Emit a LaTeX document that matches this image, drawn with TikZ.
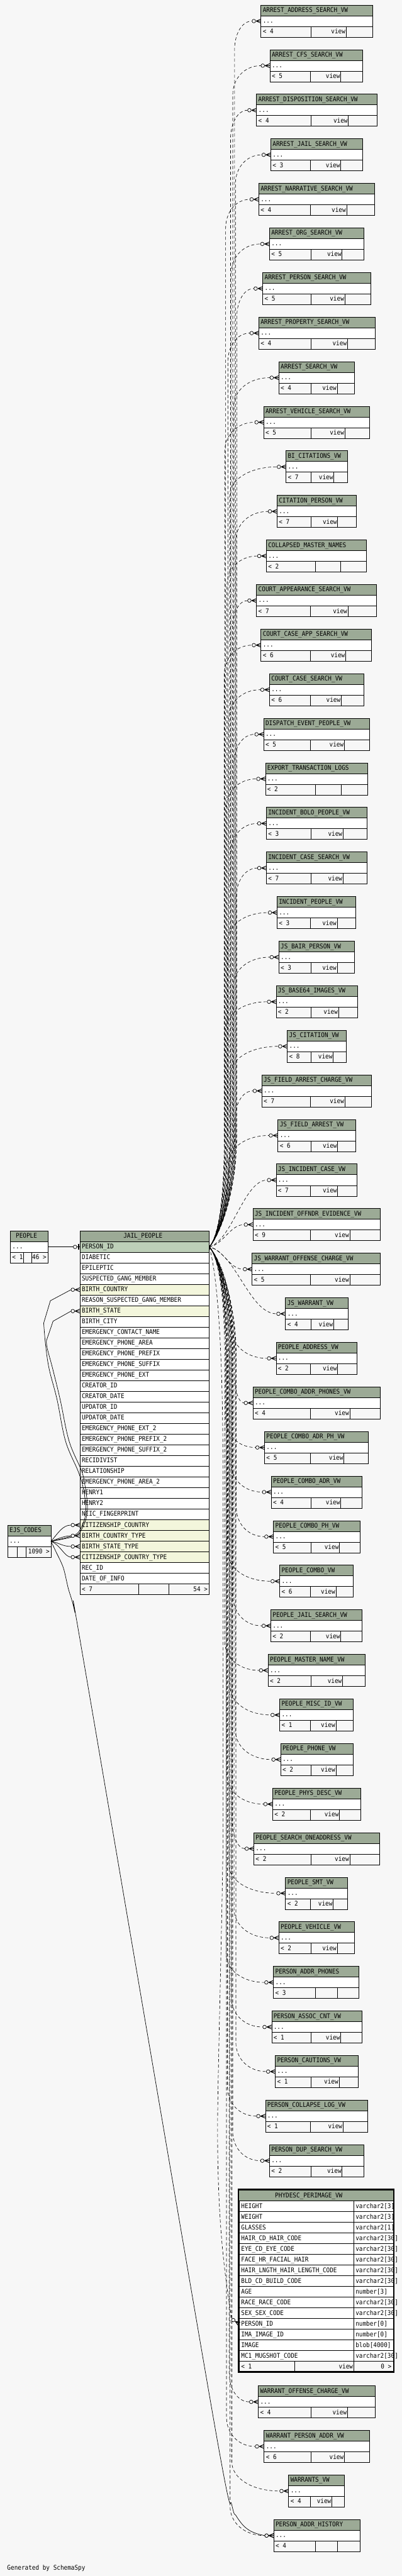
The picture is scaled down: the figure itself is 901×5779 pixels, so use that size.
\documentclass[tikz,border=0pt]{standalone}
\usepackage{fontspec}
\newfontfamily\dfont{DejaVu Sans Mono}[FakeStretch=0.905]
\definecolor{bgc}{HTML}{F7F7F7}
\definecolor{hdrc}{HTML}{9CAA96}
\definecolor{pkc}{HTML}{BDCFB8}
\definecolor{fkc}{HTML}{F3F6DC}
\tikzset{
 tbl/.style={draw=black, line width=1pt},
 lbl/.style={anchor=west, inner sep=0pt, font=\dfont\fontsize{14.6}{16}\selectfont, text height=10.6pt, text depth=0pt},
 rel/.style={line width=0.9pt, dash pattern=on 7pt off 5pt},
 fkrel/.style={line width=1pt},
 crow/.pic={
   \draw[line width=1.3pt, solid] (-11,0) -- (0,-4.5) (-11,0) -- (0,0) (-11,0) -- (0,4.5);
   \draw[line width=1pt, solid, fill=bgc] (-16,0) circle[radius=4pt];
 },
 zone/.pic={
   \draw[line width=1pt] (-7,0) -- (0,0);
   \draw[line width=2.5pt] (-3,-6.5) -- (-3,6.5);
   \draw[line width=1pt, fill=bgc] (-11,0) circle[radius=4pt];
 }
}
% #1 id, #2 title, #3 top, #4 left, #5 right, #6 div1, #7 div2, #8 count, #9 view text
\newcommand\vtab[9]{%
 \fill[hdrc] (#4,#3) rectangle (#5,#3+24);
 \fill[white] (#4,#3+24) rectangle (#5,#3+48);
 \draw[tbl] (#4,#3) rectangle (#5,#3+72);
 \draw[tbl] (#4,#3+24) -- (#5,#3+24) (#4,#3+48) -- (#5,#3+48) (#6,#3+48) -- (#6,#3+72) (#7,#3+48) -- (#7,#3+72);
 \node[lbl] (#1h) at (#4+4,#3+11) {#2};
 \node[lbl] (#1r) at (#4+4,#3+35) {...};
 \node[lbl] (#1f) at (#4+4,#3+59) {< #8};
 \node[lbl, anchor=east] (#1v) at (#7-1.5,#3+59) {#9};
 \coordinate (#1) at (#4,#3+36);
}
% #1 id, #2 top, #3 left, #4 trunk x
\newcommand\jedge[4]{%
 \pgfmathsetmacro\jTy{#2+36}%
 \pgfmathsetmacro\jDy{\jTy-2797.3}%
 \pgfmathsetmacro\jAdy{abs(\jDy)}%
 \pgfmathsetmacro\jDir{(\jDy<0) ? -1 : 1}%
 \pgfmathsetmacro\jCx{#3-20}%
 \pgfmathsetmacro\jPh{mod(#2*1.7,12)}%
 \ifdim\jAdy pt<170pt
   \pgfmathsetmacro\jCa{469.3+0.4*(\jCx-469.3)}%
   \pgfmathsetmacro\jCb{469.3+0.6*(\jCx-469.3)}%
   \pgfmathsetmacro\jYa{2797.3+0.1*(\jDy)}%
   \draw[rel, dash phase=\jPh pt] (jpr) .. controls (\jCa,\jYa) and (\jCb,\jTy) .. ([xshift=-20pt]#1);
 \else
   \pgfmathsetmacro\jYbr{\jTy-(\jDir)*65}%
   \pgfmathsetmacro\jDd{abs(\jYbr-2797.3)}%
   \pgfmathsetmacro\jYm{2797.3+(\jDir)*min(250,\jDd)}%
   \pgfmathsetmacro\jYc{2797.3+(\jDir)*min(120,0.5*\jDd)}%
   \pgfmathsetmacro\jYs{2797.3+(\jDir)*25}%
   \pgfmathsetmacro\jYt{\jTy-(\jDir)*30}%
   \pgfmathsetmacro\jCc{#4+0.4*(\jCx-#4)}%
   \draw[rel, dash phase=\jPh pt] (jpr) .. controls (492,\jYs) and (#4,\jYc) .. (#4,\jYm) -- (#4,\jYbr) .. controls (#4,\jYt) and (\jCc,\jTy) .. ([xshift=-20pt]#1);
 \fi
 \pic at (#1) {crow};
}
\begin{document}
\begin{tikzpicture}[x=1pt,y=-1pt]
\fill[bgc] (0,0) rectangle (901,5779);
\useasboundingbox (0,0) rectangle (901,5779);

% ---------- right column views ----------
\vtab{t1}{ARREST\_ADDRESS\_SEARCH\_VW}{11.3}{585.3}{835.7}{697.3}{776.3}{4}{view}
\vtab{t2}{ARREST\_CFS\_SEARCH\_VW}{111.3}{605.3}{813.3}{696.3}{764.3}{5}{view}
\vtab{t3}{ARREST\_DISPOSITION\_SEARCH\_VW}{211.3}{575.3}{845.7}{697.3}{781.3}{4}{view}
\vtab{t4}{ARREST\_JAIL\_SEARCH\_VW}{311.3}{607.3}{812.7}{696.3}{764.3}{3}{view}
\vtab{t5}{ARREST\_NARRATIVE\_SEARCH\_VW}{411.3}{580.3}{839.7}{696.3}{777.3}{4}{view}
\vtab{t6}{ARREST\_ORG\_SEARCH\_VW}{511.3}{604.3}{816.3}{697.3}{767.3}{5}{view}
\vtab{t7}{ARREST\_PERSON\_SEARCH\_VW}{611.3}{589.3}{831.3}{697.3}{773.3}{5}{view}
\vtab{t8}{ARREST\_PROPERTY\_SEARCH\_VW}{711.3}{580.3}{840.7}{697.3}{779.3}{4}{view}
\vtab{t9}{ARREST\_SEARCH\_VW}{811.3}{625.3}{795.3}{697.3}{756.3}{4}{view}
\vtab{t10}{ARREST\_VEHICLE\_SEARCH\_VW}{911.3}{591.3}{829.3}{697.3}{773.3}{5}{view}
\vtab{t11}{BI\_CITATIONS\_VW}{1011.3}{641.3}{779.3}{697.3}{748.7}{7}{view}
\vtab{t12}{CITATION\_PERSON\_VW}{1111.3}{621.3}{799.3}{697.3}{757.3}{7}{view}
\vtab{t13}{COLLAPSED\_MASTER\_NAMES}{1211.3}{597.3}{821.3}{707.3}{764.3}{2}{}
\vtab{t14}{COURT\_APPEARANCE\_SEARCH\_VW}{1311.3}{575.3}{844.3}{696.3}{780.3}{7}{view}
\vtab{t15}{COURT\_CASE\_APP\_SEARCH\_VW}{1411.3}{585.3}{833.3}{696.3}{775.3}{6}{view}
\vtab{t16}{COURT\_CASE\_SEARCH\_VW}{1511.3}{604.3}{815.3}{696.3}{765.3}{6}{view}
\vtab{t17}{DISPATCH\_EVENT\_PEOPLE\_VW}{1611.3}{591.3}{828.3}{696.3}{772.3}{5}{view}
\vtab{t18}{EXPORT\_TRANSACTION\_LOGS}{1711.3}{595.3}{824.3}{707.3}{765.3}{2}{}
\vtab{t19}{INCIDENT\_BOLO\_PEOPLE\_VW}{1811.3}{597.3}{823.3}{697.3}{769.3}{3}{view}
\vtab{t20}{INCIDENT\_CASE\_SEARCH\_VW}{1911.3}{597.3}{823.3}{697.3}{769.3}{7}{view}
\vtab{t21}{INCIDENT\_PEOPLE\_VW}{2011.3}{621.3}{797.3}{696.3}{756.3}{3}{view}
\vtab{t22}{JS\_BAIR\_PERSON\_VW}{2111.3}{625.3}{795.3}{697.3}{756.3}{3}{view}
\vtab{t23}{JS\_BASE64\_IMAGES\_VW}{2211.3}{619.3}{801.3}{697.3}{759.3}{2}{view}
\vtab{t24}{JS\_CITATION\_VW}{2311.3}{644.3}{776.3}{697.3}{747.3}{8}{view}
\vtab{t25}{JS\_FIELD\_ARREST\_CHARGE\_VW}{2411.3}{587.3}{832.3}{696.3}{773.3}{7}{view}
\vtab{t26}{JS\_FIELD\_ARREST\_VW}{2511.3}{623.3}{797.3}{697.3}{757.3}{6}{view}
\vtab{t27}{JS\_INCIDENT\_CASE\_VW}{2611.3}{619.3}{800.3}{696.3}{757.3}{7}{view}
\vtab{t28}{JS\_INCIDENT\_OFFNDR\_EVIDENCE\_VW}{2711.3}{567.3}{852.3}{696.3}{784.3}{9}{view}
\vtab{t29}{JS\_WARRANT\_OFFENSE\_CHARGE\_VW}{2811.3}{565.3}{853.3}{696.3}{784.3}{5}{view}
\vtab{t30}{JS\_WARRANT\_VW}{2911.3}{640.3}{780.3}{697.3}{748.3}{4}{view}
\vtab{t31}{PEOPLE\_ADDRESS\_VW}{3011.3}{619.3}{800.3}{696.3}{757.3}{2}{view}
\vtab{t32}{PEOPLE\_COMBO\_ADDR\_PHONES\_VW}{3111.3}{567.3}{852.3}{696.3}{784.3}{4}{view}
\vtab{t33}{PEOPLE\_COMBO\_ADR\_PH\_VW}{3211.3}{593.3}{825.3}{696.3}{771.3}{5}{view}
\vtab{t34}{PEOPLE\_COMBO\_ADR\_VW}{3311.3}{608.3}{812.3}{697.3}{764.3}{4}{view}
\vtab{t35}{PEOPLE\_COMBO\_PH\_VW}{3411.3}{613.3}{807.3}{697.3}{761.3}{5}{view}
\vtab{t36}{PEOPLE\_COMBO\_VW}{3511.3}{627.3}{792.3}{696.3}{753.3}{6}{view}
\vtab{t37}{PEOPLE\_JAIL\_SEARCH\_VW}{3611.3}{607.3}{812.3}{696.3}{764.3}{2}{view}
\vtab{t38}{PEOPLE\_MASTER\_NAME\_VW}{3711.3}{601.3}{819.3}{697.3}{768.3}{2}{view}
\vtab{t39}{PEOPLE\_MISC\_ID\_VW}{3811.3}{627.3}{792.3}{696.3}{753.3}{1}{view}
\vtab{t40}{PEOPLE\_PHONE\_VW}{3911.3}{629.3}{791.3}{697.3}{753.3}{2}{view}
\vtab{t41}{PEOPLE\_PHYS\_DESC\_VW}{4011.3}{611.3}{808.3}{696.3}{761.3}{2}{view}
\vtab{t42}{PEOPLE\_SEARCH\_ONEADDRESS\_VW}{4111.3}{569.3}{851.3}{697.3}{784.3}{2}{view}
\vtab{t43}{PEOPLE\_SMT\_VW}{4211.3}{640.3}{779.3}{696.3}{747.3}{2}{view}
\vtab{t44}{PEOPLE\_VEHICLE\_VW}{4311.3}{625.3}{795.3}{697.3}{756.3}{2}{view}
\vtab{t45}{PERSON\_ADDR\_PHONES}{4411.3}{613.3}{805.3}{707.3}{756.3}{3}{}
\vtab{t46}{PERSON\_ASSOC\_CNT\_VW}{4511.3}{609.3}{811.3}{697.3}{764.3}{1}{view}
\vtab{t47}{PERSON\_CAUTIONS\_VW}{4611.3}{617.3}{803.3}{697.3}{760.3}{1}{view}
\vtab{t48}{PERSON\_COLLAPSE\_LOG\_VW}{4711.3}{595.3}{824.3}{696.3}{769.3}{1}{view}
\vtab{t49}{PERSON\_DUP\_SEARCH\_VW}{4811.3}{604.3}{816.3}{697.3}{767.3}{2}{view}
\vtab{t50}{WARRANT\_OFFENSE\_CHARGE\_VW}{5352.3}{579.3}{841.3}{697.3}{779.3}{4}{view}
\vtab{t51}{WARRANT\_PERSON\_ADDR\_VW}{5452.3}{592.3}{828.3}{697.3}{772.3}{6}{view}
\vtab{t52}{WARRANTS\_VW}{5552.3}{647.3}{772.3}{696.3}{744.3}{4}{view}
\vtab{t53}{PERSON\_ADDR\_HISTORY}{5652.3}{613.8}{807.5}{707.5}{757}{4}{}

% ---------- PHYDESC_PERIMAGE_VW ----------
\fill[hdrc] (536.7,4913.3) rectangle (881.7,4937.3);
\node[lbl] (pdh) at (616.7,4924.3) {PHYDESC\_PERIMAGE\_VW};
\foreach \nm/\tp [count=\i from 0] in {HEIGHT/varchar2[3], WEIGHT/varchar2[3], GLASSES/varchar2[1], HAIR\_CD\_HAIR\_CODE/varchar2[30], EYE\_CD\_EYE\_CODE/varchar2[30], FACE\_HR\_FACIAL\_HAIR/varchar2[30], HAIR\_LNGTH\_HAIR\_LENGTH\_CODE/varchar2[30], BLD\_CD\_BUILD\_CODE/varchar2[30], AGE/number[3], RACE\_RACE\_CODE/varchar2[30], SEX\_SEX\_CODE/varchar2[30], PERSON\_ID/number[0], IMA\_IMAGE\_ID/number[0], IMAGE/blob[4000], MC1\_MUGSHOT\_CODE/varchar2[30]}{
  \filldraw[tbl, fill=white] (536.7,4937.3+24*\i) rectangle (793.3,4961.3+24*\i);
  \filldraw[tbl, fill=white] (793.3,4937.3+24*\i) rectangle (881.7,4961.3+24*\i);
  \node[lbl] at (540.7,4948.3+24*\i) {\nm};
  \node[lbl] at (797.3,4948.3+24*\i) {\tp};
}
\draw[tbl] (536.7,5297.3) rectangle (881.7,5321.3) (660.3,5297.3) -- (660.3,5321.3) (793.3,5297.3) -- (793.3,5321.3);
\node[lbl] at (540.7,5308.3) {< 1};
\node[lbl, anchor=east] at (791.8,5308.3) {view};
\node[lbl, anchor=east] at (878,5308.3) {0 >};
\draw[line width=3.4pt] (535,4911.7) rectangle (883,5321);
\coordinate (pdid) at (536.7,5213.3);

% ---------- JAIL_PEOPLE ----------
\fill[hdrc] (179.3,2761.3) rectangle (469.3,2785.3);
\draw[tbl] (179.3,2761.3) rectangle (469.3,2785.3);
\node[lbl] (jph) at (276.7,2772.3) {JAIL\_PEOPLE};
\foreach \nm/\cl [count=\i from 0] in {PERSON\_ID/pkc, DIABETIC/white, EPILEPTIC/white, SUSPECTED\_GANG\_MEMBER/white, BIRTH\_COUNTRY/fkc, REASON\_SUSPECTED\_GANG\_MEMBER/white, BIRTH\_STATE/fkc, BIRTH\_CITY/white, EMERGENCY\_CONTACT\_NAME/white, EMERGENCY\_PHONE\_AREA/white, EMERGENCY\_PHONE\_PREFIX/white, EMERGENCY\_PHONE\_SUFFIX/white, EMERGENCY\_PHONE\_EXT/white, CREATOR\_ID/white, CREATOR\_DATE/white, UPDATOR\_ID/white, UPDATOR\_DATE/white, EMERGENCY\_PHONE\_EXT\_2/white, EMERGENCY\_PHONE\_PREFIX\_2/white, EMERGENCY\_PHONE\_SUFFIX\_2/white, RECIDIVIST/white, RELATIONSHIP/white, EMERGENCY\_PHONE\_AREA\_2/white, HENRY1/white, HENRY2/white, NCIC\_FINGERPRINT/white, CITIZENSHIP\_COUNTRY/fkc, BIRTH\_COUNTRY\_TYPE/fkc, BIRTH\_STATE\_TYPE/fkc, CITIZENSHIP\_COUNTRY\_TYPE/fkc, REC\_ID/white, DATE\_OF\_INFO/white}{
  \filldraw[tbl, fill=\cl] (179.3,2785.3+24*\i) rectangle (469.3,2809.3+24*\i);
  \node[lbl] at (183.3,2796.3+24*\i) {\nm};
}
\draw[tbl] (179.3,3553.3) rectangle (469.3,3577.3) (311.3,3553.3) -- (311.3,3577.3) (379.3,3553.3) -- (379.3,3577.3);
\node[lbl] at (183.3,3564.3) {< 7};
\node[lbl, anchor=east] at (465.7,3564.3) {54 >};
\coordinate (jpr) at (469.3,2797.3);
\coordinate (jpl) at (179.3,2797.3);
\coordinate (jbc) at (179.3,2893.3);
\coordinate (jbs) at (179.3,2941.3);
\coordinate (jcc) at (179.3,3421.3);
\coordinate (jbct) at (179.3,3445.3);
\coordinate (jbst) at (179.3,3469.3);
\coordinate (jcct) at (179.3,3493.3);

% ---------- PEOPLE ----------
\fill[hdrc] (23.3,2761.3) rectangle (107.3,2785.3);
\fill[white] (23.3,2785.3) rectangle (107.3,2809.3);
\draw[tbl] (23.3,2761.3) rectangle (107.3,2833.3) (23.3,2785.3) -- (107.3,2785.3) (23.3,2809.3) -- (107.3,2809.3) (53.3,2809.3) -- (53.3,2833.3) (70.7,2809.3) -- (70.7,2833.3);
\node[lbl] (ph) at (35.3,2772.3) {PEOPLE};
\node[lbl] at (27.3,2796.3) {...};
\node[lbl] at (27.3,2820.3) {< 1};
\node[lbl, anchor=east] at (104.3,2820.3) {46 >};
\coordinate (pr) at (107.3,2797.3);

% ---------- EJS_CODES ----------
\fill[hdrc] (17.3,3421.7) rectangle (114.3,3445.7);
\fill[white] (17.3,3445.7) rectangle (114.3,3469.7);
\draw[tbl] (17.3,3421.7) rectangle (114.3,3493.7) (17.3,3445.7) -- (114.3,3445.7) (17.3,3469.7) -- (114.3,3469.7) (38.3,3469.7) -- (38.3,3493.7) (58.3,3469.7) -- (58.3,3493.7);
\node[lbl] (eh) at (21.3,3432.7) {EJS\_CODES};
\node[lbl] at (21.3,3456.7) {...};
\node[lbl, anchor=east] at (111.3,3480.7) {1090 >};
\coordinate (er) at (114.3,3457.7);

% ---------- edges JAIL_PEOPLE -> views ----------
\jedge{t1}{11.3}{585.3}{526}
\jedge{t2}{111.3}{605.3}{522}
\jedge{t3}{211.3}{575.3}{517}
\jedge{t4}{311.3}{607.3}{528}
\jedge{t5}{411.3}{580.3}{506}
\jedge{t6}{511.3}{604.3}{519}
\jedge{t7}{611.3}{589.3}{531}
\jedge{t8}{711.3}{580.3}{511}
\jedge{t9}{811.3}{625.3}{524}
\jedge{t10}{911.3}{591.3}{504}
\jedge{t11}{1011.3}{641.3}{515}
\jedge{t12}{1111.3}{621.3}{529}
\jedge{t13}{1211.3}{597.3}{509}
\jedge{t14}{1311.3}{575.3}{521}
\jedge{t15}{1411.3}{585.3}{503}
\jedge{t16}{1511.3}{604.3}{513}
\jedge{t17}{1611.3}{591.3}{525}
\jedge{t18}{1711.3}{595.3}{507}
\jedge{t19}{1811.3}{597.3}{518}
\jedge{t20}{1911.3}{597.3}{530}
\jedge{t21}{2011.3}{621.3}{510}
\jedge{t22}{2111.3}{625.3}{523}
\jedge{t23}{2211.3}{619.3}{505}
\jedge{t24}{2311.3}{644.3}{516}
\jedge{t25}{2411.3}{587.3}{527}
\jedge{t26}{2511.3}{623.3}{512}
\jedge{t27}{2611.3}{619.3}{512}
\jedge{t28}{2711.3}{567.3}{512}
\jedge{t29}{2811.3}{565.3}{512}
\jedge{t30}{2911.3}{640.3}{512}
\jedge{t31}{3011.3}{619.3}{520}
\jedge{t32}{3111.3}{567.3}{526}
\jedge{t33}{3211.3}{593.3}{506}
\jedge{t34}{3311.3}{608.3}{518}
\jedge{t35}{3411.3}{613.3}{530}
\jedge{t36}{3511.3}{627.3}{511}
\jedge{t37}{3611.3}{607.3}{523}
\jedge{t38}{3711.3}{601.3}{504}
\jedge{t39}{3811.3}{627.3}{516}
\jedge{t40}{3911.3}{629.3}{528}
\jedge{t41}{4011.3}{611.3}{509}
\jedge{t42}{4111.3}{569.3}{521}
\jedge{t43}{4211.3}{640.3}{513}
\jedge{t44}{4311.3}{625.3}{525}
\jedge{t45}{4411.3}{613.3}{507}
\jedge{t46}{4511.3}{609.3}{519}
\jedge{t47}{4611.3}{617.3}{529}
\jedge{t48}{4711.3}{595.3}{510}
\jedge{t49}{4811.3}{604.3}{522}
\jedge{t50}{5352.3}{579.3}{514}
\jedge{t51}{5452.3}{592.3}{508}
\jedge{t52}{5552.3}{647.3}{520}
\jedge{t53}{5652.3}{613.8}{516}

% JAIL_PEOPLE -> PHYDESC_PERIMAGE_VW
\draw[rel] (jpr) .. controls (485,2850) and (500,3000) .. (500,3300) -- (500,4150) .. controls (495,4450) and (487,4700) .. (488,4800) .. controls (489,5000) and (505,5110) .. ([shift={(-17,-10.6)}]pdid);
\pic[rotate=-32] at (pdid) {crow};

% ---------- PEOPLE -> JAIL_PEOPLE ----------
\draw[fkrel] (pr) -- ([xshift=-15pt]jpl);
\pic at (jpl) {zone};

% ---------- EJS_CODES -> JAIL_PEOPLE / PERSON_ADDR_HISTORY ----------
\draw[fkrel] (er) .. controls (130,3440) and (140,3421.3) .. ([xshift=-20pt]jcc);
\draw[fkrel] (er) .. controls (130,3452) and (145,3445.3) .. ([xshift=-20pt]jbct);
\draw[fkrel] (er) .. controls (130,3460) and (140,3469.3) .. ([xshift=-20pt]jbst);
\draw[fkrel] (er) .. controls (135,3465) and (145,3493.3) .. ([xshift=-20pt]jcct);
\draw[fkrel] plot[smooth, tension=0.6] coordinates {(er) (166,3444) (181,3429) (191,3403) (192,3375) (186,3335) (175,3300) (147,3233) (128,3140) (110,3070) (102,3015) (98,2968)} -- (113,2918) -- ([xshift=-20pt]jbc);
\draw[fkrel] plot[smooth, tension=0.6] coordinates {(er) (168,3446) (184,3429) (194,3403) (196,3375) (191,3335) (183,3300) (155,3233) (135,3140) (118,3070) (106,3025) (104,3008)} -- (119,2964) -- ([xshift=-20pt]jbs);
\draw[fkrel] plot[smooth, tension=0.5] coordinates {(er) (125,3480) (142,3517) (153,3563) (167,3613) (190,3740) (480,5433) (520,5620) (529,5643) (545,5665) (560,5677) (576,5684) ([xshift=-20pt]t53)};
\foreach \c in {jbc,jbs,jcc,jbct,jbst,jcct}{\pic at (\c) {crow};}
\pic at (t53) {crow};

% ---------- footer text ----------
\node[lbl] (gen) at (16,5760) {Generated by SchemaSpy};
\end{tikzpicture}
\end{document}
